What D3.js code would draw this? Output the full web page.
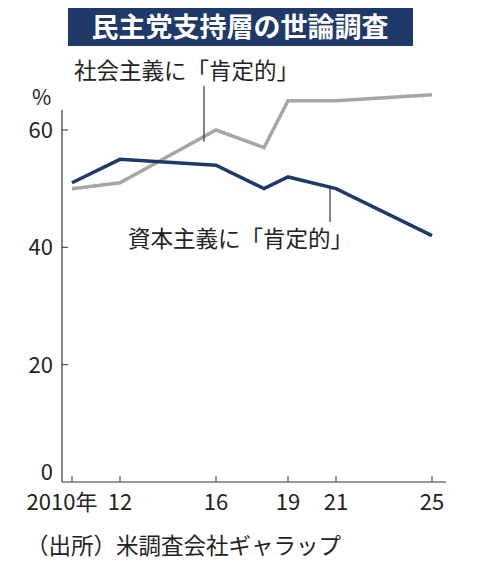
<!DOCTYPE html>
<html><head><meta charset="utf-8">
<script src="https://cdn.jsdelivr.net/npm/d3@7"></script>
<style>body{margin:0;background:#fff}svg{display:block}text{font-family:"Noto Sans CJK JP","Noto Sans",sans-serif}</style>
</head><body><svg id="c" width="480" height="568"></svg>
<script>
const years = [2010, 2012, 2016, 2018, 2019, 2021, 2025];
const socialism = [50, 51, 60, 57, 65, 65, 66];
const capitalism = [51, 55, 54, 50, 52, 50, 42];
const yTicks = [0, 20, 40, 60];
const xTicks = [2010, 2012, 2016, 2019, 2021, 2025];
const xTickLabels = ["2010年", "12", "16", "19", "21", "25"];

const svg = d3.select("#c");
const x = d3.scaleLinear().domain([2010, 2025]).range([72, 432]);
const y = d3.scaleLinear().domain([0, 60]).range([482, 130]);

svg.append("rect").attr("x", 68).attr("y", 8).attr("width", 345).attr("height", 38).attr("fill", "#1f3a68");
svg.append("text").attr("x", 240).attr("y", 37).attr("text-anchor", "middle").attr("fill", "#fff")
  .attr("font-size", 27).attr("font-weight", "bold").text("民主党支持層の世論調査");

svg.append("line").attr("x1", 62).attr("x2", 62).attr("y1", 110).attr("y2", 482).attr("stroke", "#333").attr("stroke-width", 1.2);
svg.append("line").attr("x1", 62).attr("x2", 446).attr("y1", 482).attr("y2", 482).attr("stroke", "#333").attr("stroke-width", 1.2);
yTicks.forEach(t => {
  svg.append("text").attr("x", 53).attr("y", t === 0 ? y(t) - 2 : y(t) + 8).attr("text-anchor", "end").attr("font-size", 22).attr("fill", "#222").text(t);
  if (t > 0) svg.append("line").attr("x1", 62).attr("x2", 68).attr("y1", y(t)).attr("y2", y(t)).attr("stroke", "#333");
});
svg.append("text").attr("x", 32).attr("y", 105).attr("font-size", 21).attr("fill", "#222").text("%");
xTicks.forEach((t, i) => {
  svg.append("line").attr("x1", x(t)).attr("x2", x(t)).attr("y1", 482).attr("y2", 476).attr("stroke", "#333");
  svg.append("text").attr("x", i === 0 ? x(t) - 10 : x(t)).attr("y", 510).attr("text-anchor", "middle")
    .attr("font-size", 22).attr("fill", "#222").text(xTickLabels[i]);
});

const line = d3.line().x((d, i) => x(years[i])).y(d => y(d));
svg.append("path").datum(socialism).attr("d", line).attr("fill", "none").attr("stroke", "#a6a6a6").attr("stroke-width", 3.5);
svg.append("path").datum(capitalism).attr("d", line).attr("fill", "none").attr("stroke", "#1f3a68").attr("stroke-width", 3.5);

svg.append("line").attr("x1", 204).attr("x2", 204).attr("y1", 86).attr("y2", y(58)).attr("stroke", "#333").attr("stroke-width", 1.2);
svg.append("text").attr("x", 74).attr("y", 79).attr("font-size", 22.5).attr("fill", "#222").text("社会主義に「肯定的」");
svg.append("line").attr("x1", 330).attr("x2", 330).attr("y1", y(50.5)).attr("y2", 222).attr("stroke", "#333").attr("stroke-width", 1.2);
svg.append("text").attr("x", 128).attr("y", 247).attr("font-size", 22.5).attr("fill", "#222").text("資本主義に「肯定的」");

svg.append("text").attr("x", 26).attr("y", 554).attr("font-size", 22.5).attr("fill", "#222").text("（出所）米調査会社ギャラップ");
</script></body></html>
